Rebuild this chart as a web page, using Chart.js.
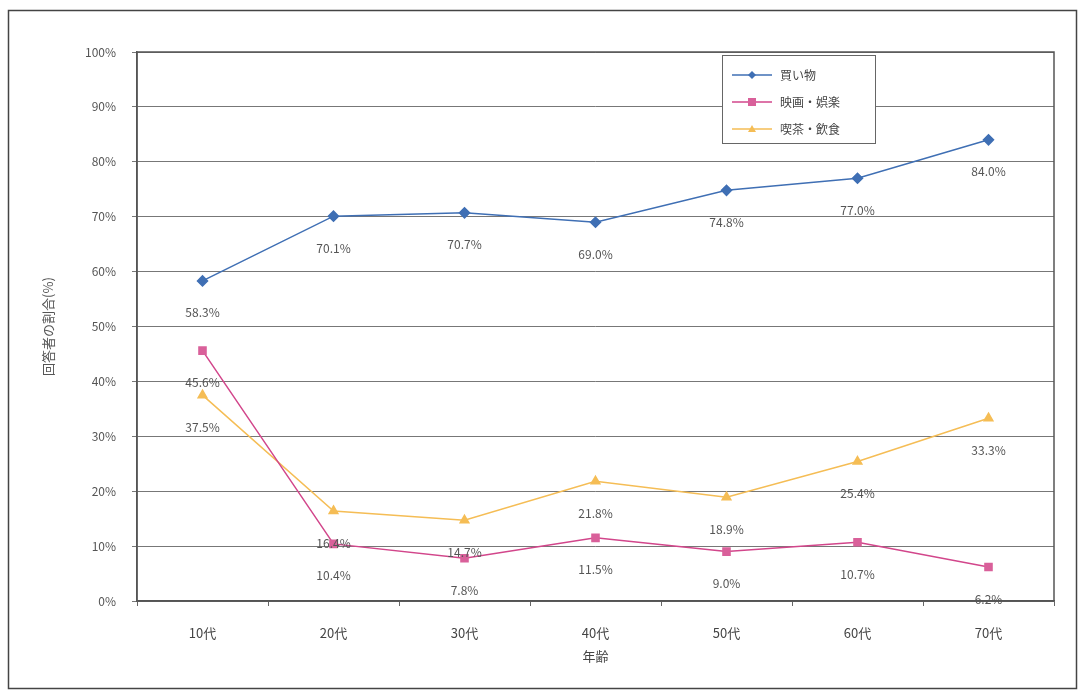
<!DOCTYPE html>
<html>
<head>
<meta charset="utf-8">
<script src="https://cdn.jsdelivr.net/npm/chart.js@4.4.1/dist/chart.umd.min.js"></script>
<style>
  body { margin: 0; background: #fff; }
  #wrap { width: 1084px; height: 695px; position: relative; }
</style>
</head>
<body>
<div id="wrap"><canvas id="age-chart"></canvas></div>
<script>
const ageLabels = ['10代', '20代', '30代', '40代', '50代', '60代', '70代'];
const shoppingValues = [58.3, 70.1, 70.7, 69.0, 74.8, 77.0, 84.0];
const movieValues = [45.6, 10.4, 7.8, 11.5, 9.0, 10.7, 6.2];
const cafeValues = [37.5, 16.4, 14.7, 21.8, 18.9, 25.4, 33.3];
const yTicks = [0, 10, 20, 30, 40, 50, 60, 70, 80, 90, 100];

const fontFamily = '"Noto Sans CJK JP", "Noto Sans", sans-serif';

// value labels under each point
const pointLabels = {
    id: 'pointLabels',
    afterDatasetsDraw(chart) {
        const ctx = chart.ctx;
        ctx.save();
        ctx.font = '12px ' + fontFamily;
        ctx.fillStyle = '#555';
        ctx.textAlign = 'center';
        ctx.textBaseline = 'middle';
        chart.data.datasets.forEach((ds, i) => {
            chart.getDatasetMeta(i).data.forEach((pt, j) => {
                ctx.fillText(ds.data[j].toFixed(1) + '%', pt.x, pt.y + 32);
            });
        });
        ctx.restore();
    }
};

// legend box inside the plot, x title, outer frame
const boxLegend = {
    id: 'boxLegend',
    afterDraw(chart) {
        const ctx = chart.ctx;
        const a = chart.chartArea;
        ctx.save();
        ctx.strokeStyle = '#555';
        ctx.lineWidth = 1.5;
        ctx.strokeRect(a.left, a.top, a.right - a.left, a.bottom - a.top);

        ctx.strokeStyle = '#444';
        ctx.strokeRect(8.5, 10.5, 1068, 678);

        ctx.fillStyle = '#444';
        ctx.font = '13px ' + fontFamily;
        ctx.textAlign = 'center';
        ctx.textBaseline = 'middle';
        ctx.fillText('年齢', (a.left + a.right) / 2, a.bottom + 55);

        const x = 722, y = 55, w = 153, h = 88;
        ctx.fillStyle = '#fff';
        ctx.fillRect(x, y, w, h);
        ctx.strokeStyle = '#666';
        ctx.lineWidth = 1;
        ctx.strokeRect(x + 0.5, y + 0.5, w, h);
        ctx.font = '12px ' + fontFamily;
        ctx.textAlign = 'left';
        chart.data.datasets.forEach((ds, i) => {
            const ly = y + 20 + i * 27;
            ctx.strokeStyle = ds.borderColor;
            ctx.lineWidth = 1.5;
            ctx.beginPath();
            ctx.moveTo(x + 10, ly);
            ctx.lineTo(x + 50, ly);
            ctx.stroke();
            ctx.fillStyle = ds.pointBackgroundColor;
            const cx = x + 30;
            if (ds.pointStyle === 'rectRot') {
                ctx.beginPath();
                ctx.moveTo(cx, ly - 4); ctx.lineTo(cx + 4, ly); ctx.lineTo(cx, ly + 4); ctx.lineTo(cx - 4, ly);
                ctx.fill();
            } else if (ds.pointStyle === 'rect') {
                ctx.fillRect(cx - 4, ly - 4, 8, 8);
            } else {
                ctx.beginPath();
                ctx.moveTo(cx, ly - 4); ctx.lineTo(cx + 4, ly + 3); ctx.lineTo(cx - 4, ly + 3);
                ctx.fill();
            }
            ctx.fillStyle = '#444';
            ctx.fillText(ds.label, x + 58, ly);
        });
        ctx.restore();
    }
};

new Chart(document.getElementById('age-chart'), {
    type: 'line',
    data: {
        labels: ageLabels,
        datasets: [{
            label: '買い物',
            data: shoppingValues,
            borderColor: '#3f6fb4',
            pointBackgroundColor: '#3f6fb4',
            pointBorderColor: '#3f6fb4',
            pointStyle: 'rectRot',
            pointRadius: 5,
            borderWidth: 1.5
        }, {
            label: '映画・娯楽',
            data: movieValues,
            borderColor: '#d2468b',
            pointBackgroundColor: '#d9609a',
            pointBorderColor: '#d9609a',
            pointStyle: 'rect',
            pointRadius: 5,
            borderWidth: 1.5
        }, {
            label: '喫茶・飲食',
            data: cafeValues,
            borderColor: '#f5bd55',
            pointBackgroundColor: '#f5bd55',
            pointBorderColor: '#f5bd55',
            pointStyle: 'triangle',
            pointRadius: 5,
            borderWidth: 1.5
        }]
    },
    options: {
        responsive: true,
        maintainAspectRatio: false,
        animation: false,
        layout: { padding: { top: 52, right: 30, bottom: 0, left: 36 } },
        scales: {
            x: {
                offset: true,
                afterFit: axis => { axis.height = 94; },
                grid: { display: true, offset: true, drawOnChartArea: false, drawTicks: true, tickLength: 5, color: '#666' },
                border: { color: '#555', width: 1.5 },
                ticks: { color: '#444', font: { family: fontFamily, size: 13 }, padding: 19 }
            },
            y: {
                min: 0,
                max: 100,
                afterBuildTicks: axis => { axis.ticks = yTicks.map(v => ({ value: v })); },
                afterFit: axis => { axis.width = 101; },
                grid: { color: '#777', lineWidth: 1, tickLength: 5 },
                border: { color: '#555', width: 1.5 },
                ticks: {
                    color: '#555',
                    font: { family: fontFamily, size: 12 },
                    padding: 16,
                    callback: v => v + '%'
                },
                title: { display: true, text: '回答者の割合(%)', color: '#555', font: { family: fontFamily, size: 13 } }
            }
        },
        plugins: {
            legend: { display: false },
            tooltip: { enabled: false }
        }
    },
    plugins: [pointLabels, boxLegend]
});
</script>
</body>
</html>
